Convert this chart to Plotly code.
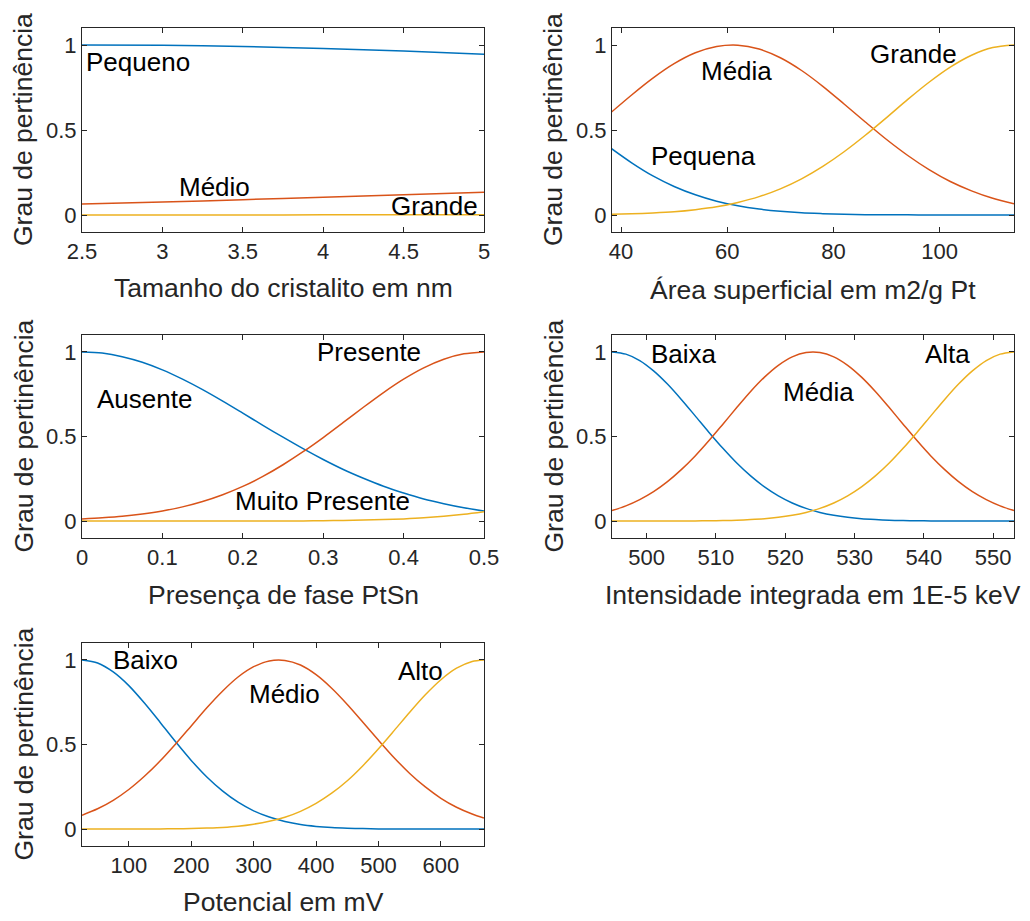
import plotly.graph_objects as go

# ---------------- data ----------------
cristal_x = [2.5, 3.0, 3.5, 4.0, 4.5, 5.0]
cristal_pequeno = [1.000, 0.998, 0.991, 0.979, 0.964, 0.946]
cristal_medio = [0.064, 0.076, 0.090, 0.104, 0.119, 0.134]
cristal_grande = [0.000, 0.000, 0.000, 0.001, 0.001, 0.002]

area_x = [38, 42, 46, 50, 54, 58, 62, 66, 70, 74, 78, 82, 86, 90, 94, 98, 102, 106, 110, 114]
area_pequena = [0.395, 0.307, 0.230, 0.168, 0.119, 0.081, 0.054, 0.035, 0.022, 0.013,
                0.008, 0.004, 0.002, 0.001, 0.001, 0.000, 0.000, 0.000, 0.000, 0.000]
area_media = [0.600, 0.706, 0.805, 0.890, 0.954, 0.991, 0.999, 0.976, 0.925, 0.850,
              0.757, 0.653, 0.547, 0.444, 0.350, 0.267, 0.197, 0.142, 0.098, 0.066]
area_grande = [0.004, 0.007, 0.012, 0.019, 0.031, 0.048, 0.074, 0.108, 0.154, 0.213,
               0.286, 0.372, 0.469, 0.573, 0.680, 0.781, 0.870, 0.940, 0.985, 1.000]

ptsn_x = [0.0, 0.025, 0.05, 0.075, 0.1, 0.125, 0.15, 0.175, 0.2, 0.225, 0.25,
          0.275, 0.3, 0.325, 0.35, 0.375, 0.4, 0.425, 0.45, 0.475, 0.5]
ptsn_ausente = [1.000, 0.993, 0.972, 0.939, 0.894, 0.839, 0.777, 0.709, 0.638, 0.566, 0.496,
                0.428, 0.364, 0.305, 0.253, 0.206, 0.166, 0.131, 0.103, 0.079, 0.060]
ptsn_presente = [0.012, 0.019, 0.028, 0.042, 0.060, 0.084, 0.116, 0.156, 0.205, 0.264, 0.333,
                 0.410, 0.494, 0.583, 0.673, 0.760, 0.839, 0.906, 0.957, 0.989, 1.000]
ptsn_muito = [0.000, 0.000, 0.000, 0.000, 0.000, 0.000, 0.000, 0.000, 0.000, 0.001, 0.001,
              0.001, 0.002, 0.004, 0.006, 0.009, 0.013, 0.019, 0.028, 0.040, 0.055]

xrd_x = [495, 497, 499, 501, 503, 505, 507, 509, 511, 513, 515, 517, 519, 521, 523,
         525, 527, 529, 531, 533, 535, 537, 539, 541, 543, 545, 547, 549, 551, 553]
xrd_baixa = [1.000, 0.987, 0.949, 0.888, 0.810, 0.719, 0.622, 0.524, 0.430, 0.343,
             0.267, 0.202, 0.149, 0.107, 0.075, 0.051, 0.034, 0.022, 0.014, 0.009,
             0.005, 0.003, 0.002, 0.001, 0.000, 0.000, 0.000, 0.000, 0.000, 0.000]
xrd_media = [0.062, 0.090, 0.127, 0.174, 0.233, 0.304, 0.385, 0.476, 0.573, 0.671,
             0.766, 0.851, 0.921, 0.971, 0.997, 0.997, 0.971, 0.921, 0.851, 0.766,
             0.671, 0.573, 0.476, 0.385, 0.304, 0.233, 0.174, 0.127, 0.090, 0.062]
xrd_alta = [0.000, 0.000, 0.000, 0.000, 0.000, 0.000, 0.001, 0.002, 0.003, 0.005,
            0.009, 0.014, 0.022, 0.034, 0.051, 0.075, 0.107, 0.149, 0.202, 0.267,
            0.343, 0.430, 0.524, 0.622, 0.719, 0.810, 0.888, 0.949, 0.987, 1.000]

pot_x = [25, 50, 75, 100, 125, 150, 175, 200, 225, 250, 275, 300, 325, 350,
         375, 400, 425, 450, 475, 500, 525, 550, 575, 600, 625, 650, 669]
pot_baixo = [1.000, 0.982, 0.929, 0.848, 0.745, 0.632, 0.516, 0.406, 0.308, 0.226,
             0.159, 0.108, 0.071, 0.045, 0.027, 0.016, 0.009, 0.005, 0.003, 0.001,
             0.001, 0.000, 0.000, 0.000, 0.000, 0.000, 0.000]
pot_medio = [0.082, 0.120, 0.170, 0.234, 0.312, 0.402, 0.503, 0.610, 0.717, 0.815,
             0.899, 0.960, 0.994, 0.997, 0.970, 0.913, 0.833, 0.737, 0.632, 0.525,
             0.422, 0.329, 0.249, 0.182, 0.129, 0.089, 0.065]
pot_alto = [0.000, 0.000, 0.000, 0.000, 0.000, 0.001, 0.002, 0.003, 0.006, 0.010,
            0.017, 0.029, 0.046, 0.070, 0.105, 0.152, 0.212, 0.286, 0.375, 0.475,
            0.582, 0.691, 0.794, 0.883, 0.951, 0.991, 1.000]

# ---------------- style ----------------
W, H = 1030, 921
BLUE, ORANGE, YELLOW = "#0072BD", "#D95319", "#EDB120"
AX = "#262626"
FONT = "Liberation Sans, Arial, Helvetica, sans-serif"
TICK_SIZE = 22
LABEL_SIZE = 26.5
TEXT_SIZE = 26

# panel pixel boxes (left, top, right, bottom)
boxes = [
    (82, 28, 484, 232),
    (612, 28, 1014, 232),
    (82, 335, 484, 538),
    (612, 335, 1014, 538),
    (82, 643, 484, 846),
]

panels = [
    dict(x=cristal_x, series=[cristal_pequeno, cristal_medio, cristal_grande],
         xrange=[2.5, 5], tickvals=[2.5, 3, 3.5, 4, 4.5, 5],
         ticktext=["2.5", "3", "3.5", "4", "4.5", "5"],
         xlabel="Tamanho do cristalito em nm", label_y=288,
         texts=[("Pequeno", 2.51, 0.90), ("Médio", 3.09, 0.165), ("Grande", 4.41, 0.055)]),
    dict(x=area_x, series=[area_pequena, area_media, area_grande],
         xrange=[38.3, 114], tickvals=[40, 60, 80, 100],
         ticktext=["40", "60", "80", "100"],
         xlabel="Área superficial em m2/g Pt", label_y=290,
         texts=[("Média", 54.6, 0.85), ("Grande", 86.5, 0.95), ("Pequena", 45.3, 0.345)]),
    dict(x=ptsn_x, series=[ptsn_ausente, ptsn_presente, ptsn_muito],
         xrange=[0, 0.5], tickvals=[0, 0.1, 0.2, 0.3, 0.4, 0.5],
         ticktext=["0", "0.1", "0.2", "0.3", "0.4", "0.5"],
         xlabel="Presença de fase PtSn", label_y=595,
         texts=[("Presente", 0.290, 1.0), ("Ausente", 0.016, 0.72), ("Muito Presente", 0.188, 0.118)]),
    dict(x=xrd_x, series=[xrd_baixa, xrd_media, xrd_alta],
         xrange=[495, 553], tickvals=[500, 510, 520, 530, 540, 550],
         ticktext=["500", "510", "520", "530", "540", "550"],
         xlabel="Intensidade integrada em 1E-5 keV", label_y=595,
         texts=[("Baixa", 500.3, 0.985), ("Média", 519.4, 0.765), ("Alta", 539.8, 0.985)]),
    dict(x=pot_x, series=[pot_baixo, pot_medio, pot_alto],
         xrange=[25, 669], tickvals=[100, 200, 300, 400, 500, 600],
         ticktext=["100", "200", "300", "400", "500", "600"],
         xlabel="Potencial em mV", label_y=902,
         texts=[("Baixo", 70.7, 1.0), ("Médio", 289.7, 0.80), ("Alto", 527.4, 0.937)]),
]

fig = go.Figure()
annotations = []
layout = dict(
    width=W, height=H,
    margin=dict(l=0, r=0, t=0, b=0, autoexpand=False),
    paper_bgcolor="white", plot_bgcolor="white",
    showlegend=False,
    font=dict(family=FONT, color=AX, size=TICK_SIZE),
)

colors = [BLUE, ORANGE, YELLOW]
for i, (p, box) in enumerate(zip(panels, boxes)):
    n = i + 1
    xa = "x" if n == 1 else f"x{n}"
    ya = "y" if n == 1 else f"y{n}"
    for ys, c in zip(p["series"], colors):
        fig.add_trace(go.Scatter(x=p["x"], y=ys, mode="lines", xaxis=xa, yaxis=ya,
                                 line=dict(color=c, width=1.5, shape="spline", smoothing=0.8),
                                 hoverinfo="skip"))
    l, t, r, b = box
    common = dict(showline=True, linecolor=AX, linewidth=1, mirror="ticks",
                  ticks="inside", ticklen=5, tickwidth=1, tickcolor=AX,
                  showgrid=False, zeroline=False, automargin=False,
                  tickfont=dict(family=FONT, size=TICK_SIZE, color=AX))
    layout["xaxis" if n == 1 else f"xaxis{n}"] = dict(
        domain=[l / W, r / W], anchor=ya, range=p["xrange"],
        tickvals=p["tickvals"], ticktext=p["ticktext"], **common)
    layout["yaxis" if n == 1 else f"yaxis{n}"] = dict(
        domain=[1 - b / H, 1 - t / H], anchor=xa, range=[-0.1, 1.1],
        tickvals=[0, 0.5, 1], ticktext=["0", "0.5", "1"], **common)
    # x label
    annotations.append(dict(text=p["xlabel"], xref="paper", yref="paper",
                            x=(l + r) / 2 / W, y=1 - p["label_y"] / H,
                            xanchor="center", yanchor="middle", showarrow=False,
                            font=dict(family=FONT, size=LABEL_SIZE, color=AX)))
    # y label
    annotations.append(dict(text="Grau de pertinência", xref="paper", yref="paper",
                            x=(l - 59) / W, y=1 - (t + b) / 2 / H, textangle=-90,
                            xanchor="center", yanchor="middle", showarrow=False,
                            font=dict(family=FONT, size=LABEL_SIZE, color=AX)))
    # curve labels
    for txt, tx, ty in p["texts"]:
        annotations.append(dict(text=txt, xref=xa, yref=ya, x=tx, y=ty,
                                xanchor="left", yanchor="middle", showarrow=False,
                                font=dict(family=FONT, size=TEXT_SIZE, color="black")))

layout["annotations"] = annotations
fig.update_layout(**layout)
fig.write_html("out.html")
